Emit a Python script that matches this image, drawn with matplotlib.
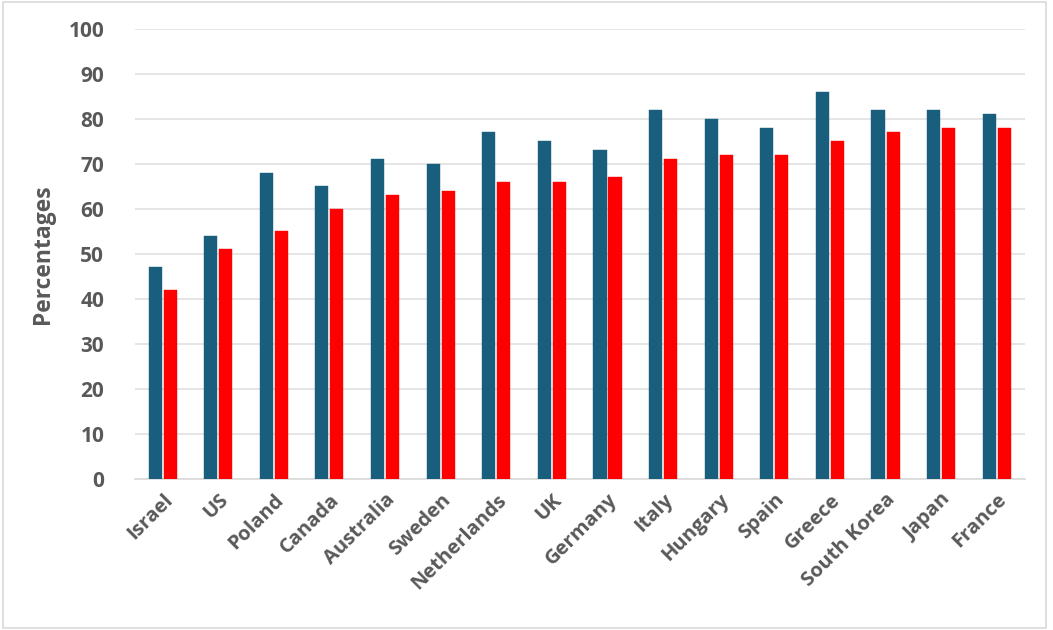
import numpy as np
import matplotlib.pyplot as plt
from matplotlib.patches import Rectangle

# data
countries = ['Israel', 'US', 'Poland', 'Canada', 'Australia', 'Sweden', 'Netherlands', 'UK',
             'Germany', 'Italy', 'Hungary', 'Spain', 'Greece', 'South Korea', 'Japan', 'France']
series_blue = [47, 54, 68, 65, 71, 70, 77, 75, 73, 82, 80, 78, 86, 82, 82, 81]
series_red = [42, 51, 55, 60, 63, 64, 66, 66, 67, 71, 72, 72, 75, 77, 78, 78]
yticks = [0, 10, 20, 30, 40, 50, 60, 70, 80, 90, 100]

plt.rcParams['font.family'] = ['Open Sans', 'DejaVu Sans']

fig = plt.figure(figsize=(10.53, 6.3), dpi=100)
ax = fig.add_axes([0.128, 0.24, 0.845, 0.714])

# light outer border of the chart
fig.patches.append(Rectangle((0.003, 0.003), 0.99, 0.994, transform=fig.transFigure,
                             fill=False, edgecolor='#d9d9d9', linewidth=1.2))

x = np.arange(len(countries))
w = 0.235
ax.bar(x - 0.135, series_blue, width=w, color='#1a5e7e', edgecolor='#1a5e7e', linewidth=0.3, zorder=3)
ax.bar(x + 0.135, series_red, width=w, color='#ff0000', edgecolor='#ff0000', linewidth=0.3, zorder=3)

ax.set_xlim(-0.5, len(countries) - 0.5)
ax.set_ylim(0, 100)
ax.set_yticks(yticks)
ax.set_yticklabels([str(v) for v in yticks], fontsize=15, fontweight='bold', color='#595959')
ax.set_xticks(x)
ax.set_xticklabels(countries, rotation=45, ha='right', rotation_mode='anchor',
                   fontsize=14.5, fontweight='bold', color='#595959')
ax.tick_params(axis='both', length=0)
ax.tick_params(axis='y', pad=22)
ax.tick_params(axis='x', pad=8)

ax.grid(axis='y', color='#e0e0e0', linewidth=1.2, zorder=0)
for s in ['top', 'right', 'left']:
    ax.spines[s].set_visible(False)
ax.spines['bottom'].set_color('#d9d9d9')
ax.spines['bottom'].set_linewidth(1.2)

ax.set_ylabel('Percentages', fontsize=16.5, fontweight='bold', color='#595959', labelpad=10)

fig.savefig('out.png', dpi=100)
